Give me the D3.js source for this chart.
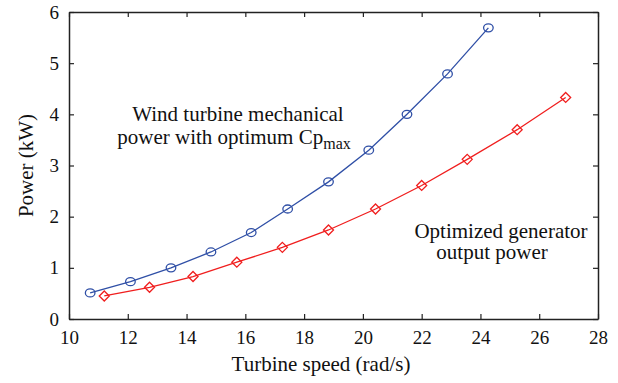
<!DOCTYPE html>
<html>
<head>
<meta charset="utf-8">
<script src="https://cdn.jsdelivr.net/npm/d3@7"></script>
<style>
  body { margin: 0; background: #fff; }
  text { font-family: "Liberation Serif", "DejaVu Serif", serif; fill: #111; }
</style>
</head>
<body>
<div id="chart"></div>
<script>
// データ
const speedMech = [10.72, 12.09, 13.47, 14.83, 16.2, 17.44, 18.83, 20.2, 21.5, 22.88, 24.27];
const powerMech = [0.51, 0.73, 1.0, 1.31, 1.69, 2.15, 2.68, 3.30, 4.0, 4.79, 5.69];
const speedGen = [11.2, 12.74, 14.22, 15.71, 17.26, 18.83, 20.43, 22.0, 23.55, 25.25, 26.9];
const powerGen = [0.45, 0.62, 0.83, 1.11, 1.40, 1.74, 2.15, 2.61, 3.12, 3.70, 4.33];
const xTicks = [10, 12, 14, 16, 18, 20, 22, 24, 26, 28];
const yTicks = [0, 1, 2, 3, 4, 5, 6];

// グラフの大きさ
const width = 618;
const height = 383;
const margin = {top: 12, right: 20, bottom: 64, left: 69};
const innerWidth = width - margin.left - margin.right;
const innerHeight = height - margin.top - margin.bottom;

const svg = d3.select('#chart')
  .append('svg')
  .attr('width', width)
  .attr('height', height);

const g = svg.append('g')
  .attr('transform', `translate(${margin.left},${margin.top})`);

const x = d3.scaleLinear().domain([10, 28]).range([0, innerWidth]);
const y = d3.scaleLinear().domain([0, 6]).range([innerHeight, 0]);

// 軸（目盛りは内向き）
const styleAxis = sel => {
  sel.select('.domain').attr('stroke', '#222').attr('stroke-width', 1.5);
  sel.selectAll('.tick line').attr('stroke', '#222').attr('stroke-width', 1.2);
  sel.selectAll('.tick text').style('font-size', '19px').attr('fill', '#111');
};

g.append('g')
  .attr('transform', `translate(0,${innerHeight})`)
  .call(d3.axisBottom(x).tickValues(xTicks).tickFormat(d3.format('d'))
    .tickSizeInner(-5).tickSizeOuter(0).tickPadding(12))
  .call(styleAxis);

g.append('g')
  .call(d3.axisLeft(y).tickValues(yTicks).tickFormat(d3.format('d'))
    .tickSizeInner(-5).tickSizeOuter(0).tickPadding(10))
  .call(styleAxis);

g.append('g')
  .call(d3.axisTop(x).tickValues(xTicks).tickSizeInner(-5).tickSizeOuter(0).tickFormat(''))
  .call(styleAxis);

g.append('g')
  .attr('transform', `translate(${innerWidth},0)`)
  .call(d3.axisRight(y).tickValues(yTicks).tickSizeInner(-5).tickSizeOuter(0).tickFormat(''))
  .call(styleAxis);

// 線とマーカー
const mech = speedMech.map((s, i) => ({s: s, p: powerMech[i]}));
const gen = speedGen.map((s, i) => ({s: s, p: powerGen[i]}));
const line = d3.line().x(d => x(d.s)).y(d => y(d.p));

const blue = '#2f4fa6';
const red = '#f01e1e';

g.append('path').datum(mech)
  .attr('d', line).attr('fill', 'none').attr('stroke', blue).attr('stroke-width', 1.3);
g.selectAll('.circ').data(mech).enter()
  .append('ellipse')
  .attr('cx', d => x(d.s)).attr('cy', d => y(d.p))
  .attr('rx', 4.8).attr('ry', 4)
  .attr('fill', 'none').attr('stroke', blue).attr('stroke-width', 1.3);

g.append('path').datum(gen)
  .attr('d', line).attr('fill', 'none').attr('stroke', red).attr('stroke-width', 1.3);
g.selectAll('.diam').data(gen).enter()
  .append('path')
  .attr('transform', d => `translate(${x(d.s)},${y(d.p)})`)
  .attr('d', 'M0,-5L5,0L0,5L-5,0Z')
  .attr('fill', 'none').attr('stroke', red).attr('stroke-width', 1.3);

// 軸ラベル
svg.append('text')
  .attr('x', 321).attr('y', 371)
  .attr('text-anchor', 'middle').style('font-size', '21px')
  .text('Turbine speed (rad/s)');

svg.append('text')
  .attr('transform', `translate(33,${margin.top + innerHeight / 2}) rotate(-90)`)
  .attr('text-anchor', 'middle').style('font-size', '21px')
  .text('Power (kW)');

// 注記
const ann1 = svg.append('text').style('font-size', '21px').attr('text-anchor', 'middle');
ann1.append('tspan').attr('x', 238).attr('y', 121).text('Wind turbine mechanical');
ann1.append('tspan').attr('x', 234).attr('y', 144).text('power with optimum Cp');
ann1.append('tspan').attr('dy', 5).style('font-size', '16px').text('max');

const ann2 = svg.append('text').style('font-size', '21px').attr('text-anchor', 'middle');
ann2.append('tspan').attr('x', 501).attr('y', 238).text('Optimized generator');
ann2.append('tspan').attr('x', 492).attr('y', 259).text('output power');
</script>
</body>
</html>
